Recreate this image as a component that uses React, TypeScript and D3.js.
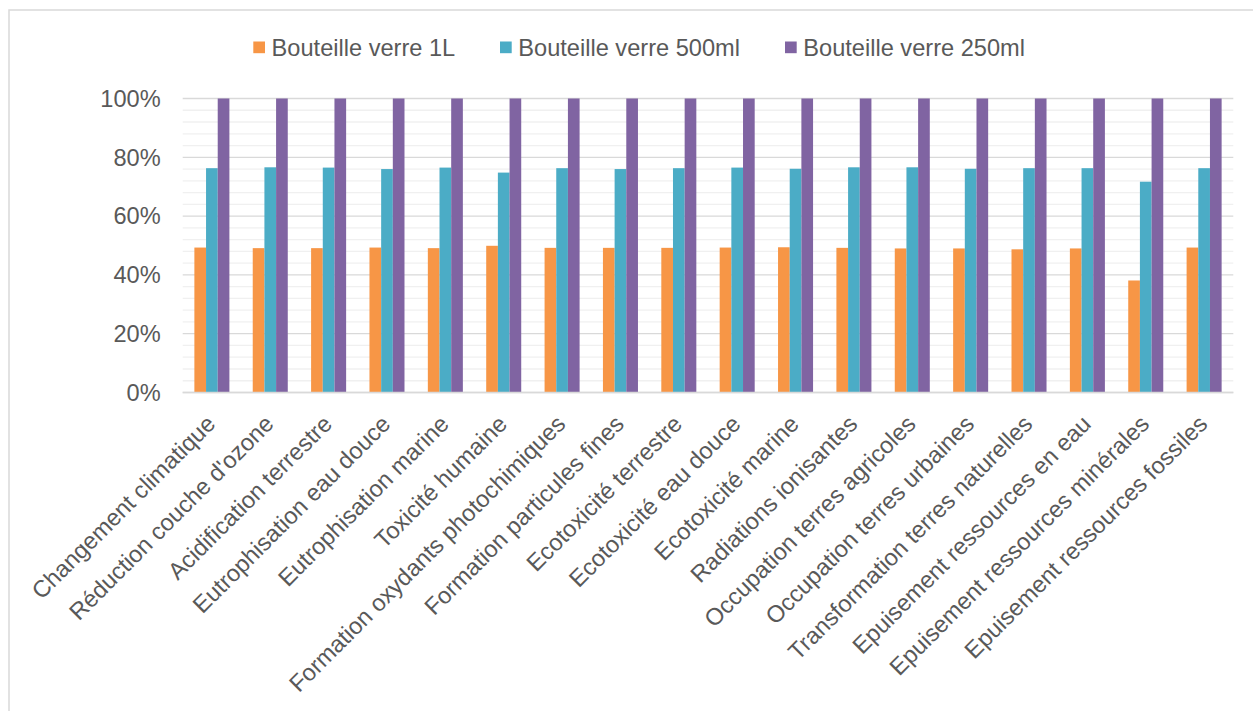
import React from "react";
import * as d3 from "d3";

const categories = [
  "Changement climatique",
  "Réduction couche d'ozone",
  "Acidification terrestre",
  "Eutrophisation eau douce",
  "Eutrophisation marine",
  "Toxicité humaine",
  "Formation oxydants photochimiques",
  "Formation particules fines",
  "Ecotoxicité terrestre",
  "Ecotoxicité eau douce",
  "Ecotoxicité marine",
  "Radiations ionisantes",
  "Occupation terres agricoles",
  "Occupation terres urbaines",
  "Transformation terres naturelles",
  "Epuisement ressources en eau",
  "Epuisement ressources minérales",
  "Epuisement ressources fossiles",
];

const seriesNames = ["Bouteille verre 1L", "Bouteille verre 500ml", "Bouteille verre 250ml"];

const values1L = [49.3, 49.1, 49.1, 49.3, 49.1, 49.9, 49.2, 49.2, 49.2, 49.3, 49.4, 49.2, 49.0, 49.0, 48.7, 49.0, 38.1, 49.3];
const values500ml = [76.3, 76.6, 76.5, 76.0, 76.5, 74.8, 76.3, 76.0, 76.3, 76.5, 76.1, 76.6, 76.6, 76.1, 76.3, 76.3, 71.7, 76.3];
const values250ml = [100, 100, 100, 100, 100, 100, 100, 100, 100, 100, 100, 100, 100, 100, 100, 100, 100, 100];

const yTicks = [0, 20, 40, 60, 80, 100];
const yMinorTicks = [4, 8, 12, 16, 24, 28, 32, 36, 44, 48, 52, 56, 64, 68, 72, 76, 84, 88, 92, 96];

const colors = ["#F79646", "#4BACC6", "#8064A2"];
const textColor = "#595959";
const font = "'Liberation Sans', Arial, sans-serif";
const fontSize = 23.6;

export default function App() {
  const width = 1253;
  const height = 711;
  const left = 182.7;
  const right = 1233.3;
  const top = 98.5;
  const bottom = 392.5;

  const series = [values1L, values500ml, values250ml];

  const x = d3
    .scaleBand<string>()
    .domain(categories)
    .range([left, right])
    .paddingInner(0.4)
    .paddingOuter(0.2);
  const xInner = d3
    .scaleBand<number>()
    .domain([0, 1, 2])
    .range([0, x.bandwidth()])
    .padding(0);
  const y = d3.scaleLinear().domain([0, 100]).range([bottom, top]);

  const legendItems = [
    { name: seriesNames[0], x: 253.3 },
    { name: seriesNames[1], x: 500.0 },
    { name: seriesNames[2], x: 785.0 },
  ];

  return (
    <svg
      width={width}
      height={height}
      style={{ position: "absolute", left: 0, top: 0, background: "#fff" }}
      fontFamily={font}
    >
      <rect x={0} y={0} width={width} height={height} fill="#fff" />
      {/* outer chart border */}
      <rect x={9} y={10} width={width + 20} height={height + 20} fill="none" stroke="#d9d9d9" strokeWidth={1.5} />

      {/* minor gridlines */}
      {yMinorTicks.map((t) => (
        <line key={"m" + t} x1={left} x2={right} y1={y(t)} y2={y(t)} stroke="#f0f0f0" strokeWidth={1.3} />
      ))}
      {/* major gridlines */}
      {yTicks.map((t) => (
        <line key={"M" + t} x1={left} x2={right} y1={y(t)} y2={y(t)} stroke="#d9d9d9" strokeWidth={1.3} />
      ))}

      {/* bars */}
      {categories.map((c, i) => (
        <g key={c} transform={`translate(${x(c)},0)`}>
          {series.map((s, k) => (
            <rect
              key={k}
              x={xInner(k)}
              y={y(s[i])}
              width={xInner.bandwidth()}
              height={y(0) - y(s[i])}
              fill={colors[k]}
            />
          ))}
        </g>
      ))}

      {/* axis line */}
      <line x1={left} x2={right} y1={y(0)} y2={y(0)} stroke="#d9d9d9" strokeWidth={1.5} />

      {/* y tick labels */}
      {yTicks.map((t) => (
        <text
          key={"yl" + t}
          x={160.7}
          y={y(t)}
          dy="0.35em"
          textAnchor="end"
          fontSize={fontSize}
          fill={textColor}
        >
          {t + "%"}
        </text>
      ))}

      {/* x category labels */}
      {categories.map((c) => {
        const cx = (x(c) as number) + x.bandwidth() / 2;
        return (
          <text
            key={"xl" + c}
            transform={`translate(${cx - 1},${bottom + 27}) rotate(-45)`}
            dy="0.35em"
            textAnchor="end"
            fontSize={fontSize}
            fill={textColor}
          >
            {c}
          </text>
        );
      })}

      {/* legend */}
      {legendItems.map((it, k) => (
        <g key={it.name}>
          <rect x={it.x} y={41.5} width={11.7} height={11.7} fill={colors[k]} />
          <text x={it.x + 18.3} y={55.7} fontSize={fontSize} fill={textColor}>
            {it.name}
          </text>
        </g>
      ))}
    </svg>
  );
}
